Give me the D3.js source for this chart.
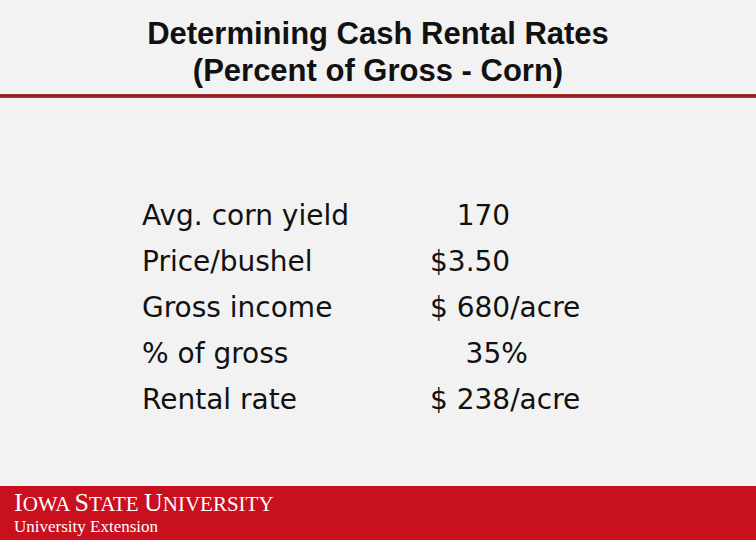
<!DOCTYPE html>
<html><head><meta charset="utf-8">
<script src="https://cdn.jsdelivr.net/npm/d3@7"></script>
<style>body{margin:0;background:#f2f2f2}svg{display:block}text{white-space:pre}</style>
</head><body>
<script>
var titleLines = ['Determining Cash Rental Rates', '(Percent of Gross - Corn)']
var labels = ['Avg. corn yield', 'Price/bushel', 'Gross income', '% of gross', 'Rental rate']
var values = ['   170', '$3.50', '$ 680/acre', '    35%', '$ 238/acre']

var width = 756, height = 540
var svg = d3.select('body').append('svg').attr('width', width).attr('height', height)

svg.append('rect').attr('width', width).attr('height', height).attr('fill', '#f2f2f2')

// header
svg.selectAll('.title').data(titleLines).enter().append('text')
    .attr('x', width / 2).attr('y', function(d, i){ return 44 + i * 37 })
    .attr('text-anchor', 'middle')
    .style('font', 'bold 31px "Liberation Sans", Arial, sans-serif')
    .attr('fill', '#111')
    .text(function(d){ return d })

svg.append('rect').attr('x', 0).attr('y', 94).attr('width', width).attr('height', 4).attr('fill', '#b03030')
svg.append('rect').attr('x', 0).attr('y', 95).attr('width', width).attr('height', 1.5).attr('fill', '#7a1d1d')

// rows
var y = d3.scaleBand().domain(d3.range(labels.length)).range([194, 424])

var rows = svg.selectAll('.row').data(labels).enter().append('g')
    .attr('transform', function(d, i){ return 'translate(0,' + (y(i) + 31) + ')' })

rows.append('text').attr('x', 142)
    .style('font', '28px "DejaVu Sans", Verdana, sans-serif').attr('fill', '#111')
    .text(function(d){ return d })

rows.append('text').attr('x', 430)
    .style('font', '28px "DejaVu Sans", Verdana, sans-serif').attr('fill', '#111')
    .text(function(d, i){ return values[i] })

// footer
svg.append('rect').attr('x', 0).attr('y', 486).attr('width', width).attr('height', 54).attr('fill', '#c8101e')
var ft = svg.append('text').attr('x', 14).attr('y', 511).attr('fill', '#fff')
    .style('font-family', '"Liberation Serif", "Times New Roman", serif')
ft.append('tspan').style('font-size', '26px').text('I')
ft.append('tspan').style('font-size', '21px').text('OWA ')
ft.append('tspan').style('font-size', '26px').text('S')
ft.append('tspan').style('font-size', '21px').text('TATE ')
ft.append('tspan').style('font-size', '26px').text('U')
ft.append('tspan').style('font-size', '21px').text('NIVERSITY')
svg.append('text').attr('x', 14).attr('y', 532).attr('fill', '#fff')
    .style('font', '17px "Liberation Serif", "Times New Roman", serif')
    .text('University Extension')
</script>
</body></html>
